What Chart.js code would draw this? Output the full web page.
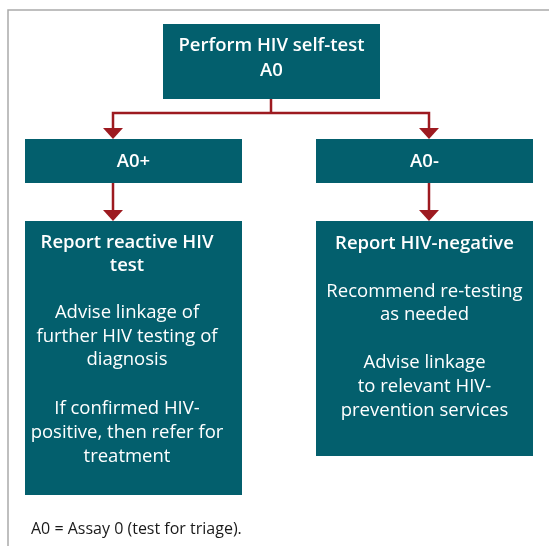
<!DOCTYPE html>
<html>
<head>
<meta charset="utf-8">
<script src="https://cdn.jsdelivr.net/npm/chart.js@4.4.0/dist/chart.umd.min.js"></script>
<style>
  html, body { margin: 0; padding: 0; background: #fff; }
  #wrap { width: 549px; height: 546px; }
</style>
</head>
<body>
<div id="wrap"><canvas id="flow" width="549" height="546"></canvas></div>
<script>
// layout units: the canvas grid (0..549 across, 0..546 down)
const boxNames = ["top", "pos", "neg", "posOut", "negOut"];
const boxLeft   = [163, 25, 316, 25, 316];
const boxRight  = [380, 242, 533, 242, 533];
const boxTop    = [24, 139, 139, 221, 221];
const boxBottom = [99, 183, 183, 495, 456];

// connector paths, each a list of [x, y]
const connectors = [
  [[271, 99], [271, 113]],
  [[113, 128], [113, 113], [429, 113], [429, 128]],
  [[113, 183], [113, 210]],
  [[429, 183], [429, 210]]
];
// arrow tips (x, y of the point)
const arrowX = [113, 429, 113, 429];
const arrowY = [139, 139, 221, 221];

// text lines: text, x centre, y centre, bold?
const lineText = [
  "Perform HIV self-test", "A0",
  "A0+", "A0-",
  "Report reactive HIV", "test",
  "Advise linkage of", "further HIV testing of", "diagnosis",
  "If confirmed HIV-", "positive, then refer for", "treatment",
  "Report HIV-negative",
  "Recommend re-testing", "as needed",
  "Advise linkage", "to relevant HIV-", "prevention services"
];
const lineX = [271.5, 271.5, 133.5, 424.5,
  127, 127, 127, 127, 127, 127, 127, 127,
  424.5, 424.5, 424.5, 424.5, 424.5, 424.5];
const lineY = [46, 71, 161.5, 161.5,
  243, 266, 313, 337, 360, 409, 433, 457,
  244, 292, 315, 363, 387, 411];
const lineBold = [1, 1, 1, 1, 1, 1, 0, 0, 0, 0, 0, 0, 1, 0, 0, 0, 0, 0];

const footnote = "A0 = Assay 0 (test for triage).";

const BOX = "#035f6d";
const RED = "#9d1a20";
const FONT = "'Open Sans', 'Noto Sans', sans-serif";

const datasets = [];

// outer frame (left and top rule)
datasets.push({
  data: [{ x: 8, y: 546 }, { x: 8, y: 10 }, { x: 549, y: 10 }],
  showLine: true, borderColor: "#ababab", borderWidth: 1.5, pointRadius: 0, fill: false
});

boxNames.forEach((n, i) => {
  datasets.push({
    label: n,
    data: [
      { x: boxLeft[i], y: boxTop[i] },
      { x: boxRight[i], y: boxTop[i] },
      { x: boxRight[i], y: boxBottom[i] },
      { x: boxLeft[i], y: boxBottom[i] },
      { x: boxLeft[i], y: boxTop[i] }
    ],
    showLine: true, borderWidth: 0, borderColor: BOX,
    backgroundColor: BOX, fill: "shape", pointRadius: 0
  });
});

connectors.forEach(path => {
  datasets.push({
    data: path.map(p => ({ x: p[0], y: p[1] })),
    showLine: true, borderColor: RED, borderWidth: 2.5, pointRadius: 0, fill: false
  });
});

arrowX.forEach((x, i) => {
  const y = arrowY[i];
  datasets.push({
    data: [{ x: x - 10, y: y - 11 }, { x: x + 10, y: y - 11 }, { x: x, y: y }, { x: x - 10, y: y - 11 }],
    showLine: true, borderWidth: 0, borderColor: RED,
    backgroundColor: RED, fill: "shape", pointRadius: 0
  });
});

const textPlugin = {
  id: "flowText",
  afterDatasetsDraw(chart) {
    const ctx = chart.ctx;
    const xs = chart.scales.x, ys = chart.scales.y;
    ctx.save();
    ctx.fillStyle = "#ffffff";
    ctx.textAlign = "center";
    ctx.textBaseline = "middle";
    lineText.forEach((t, i) => {
      ctx.font = (lineBold[i] ? "600 " : "400 ") + "18.5px " + FONT;
      ctx.fillText(t, xs.getPixelForValue(lineX[i]), ys.getPixelForValue(lineY[i]));
    });
    ctx.fillStyle = "#1a1a1a";
    ctx.textAlign = "left";
    ctx.font = "400 16px " + FONT;
    ctx.fillText(footnote, xs.getPixelForValue(31), ys.getPixelForValue(529));
    ctx.restore();
  }
};

new Chart(document.getElementById("flow"), {
  type: "scatter",
  data: { datasets },
  options: {
    responsive: false,
    animation: false,
    layout: { padding: 0 },
    plugins: { legend: { display: false }, tooltip: { enabled: false } },
    scales: {
      x: { type: "linear", min: 0, max: 549, display: false },
      y: { type: "linear", min: 0, max: 546, reverse: true, display: false }
    }
  },
  plugins: [textPlugin]
});
</script>
</body>
</html>
